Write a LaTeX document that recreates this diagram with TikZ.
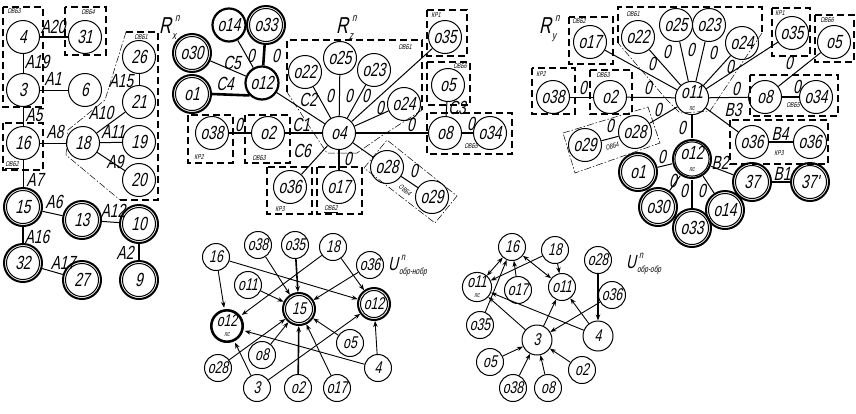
\documentclass[tikz,border=0pt]{standalone}
\usepackage{fontspec}
\newfontfamily\gost{Liberation Sans}[FakeStretch=0.72,FakeSlant=0.22]
\usetikzlibrary{arrows.meta}
\newcommand\ttlR[1]{{\fontsize{23}{23}\selectfont R}\hspace{1pt}\makebox[0pt][l]{\raisebox{-6pt}{\fontsize{11}{11}\selectfont #1}}\raisebox{12pt}{\fontsize{11}{11}\selectfont\hspace{3pt}n}}
\newcommand\ttlU[1]{{\fontsize{19}{19}\selectfont U}\hspace{1pt}\makebox[0pt][l]{\raisebox{-4pt}{\fontsize{9}{9}\selectfont #1}}\raisebox{10pt}{\fontsize{10}{10}\selectfont\hspace{2pt}n}}
\newcommand\lab[3]{\node[lbl] (#1) at (#2) {#3};}
\newcommand\tg[3]{\node[tag] (#1) at (#2) {#3};}
\newcommand\psn[1]{#1\\[-7pt]{\fontsize{7}{7}\selectfont пс}}
\tikzset{
  circ/.style={circle, draw, line width=1pt, minimum size=33pt, inner sep=0pt, align=center, font=\gost\fontsize{19}{19}\selectfont},
  ucirc/.style={circ, minimum size=27pt, font=\gost\fontsize{17}{17}\selectfont},
  dbl/.style={outer sep=3.5pt},
  thkring/.style={line width=2.2pt},
  ring/.style={line width=2pt},
  ln/.style={line width=1pt},
  thk/.style={line width=2.6pt},
  lbl/.style={font=\gost\fontsize{19}{19}\selectfont, inner sep=0pt},
  box/.style={line width=1.2pt, dash pattern=on 7pt off 4pt},
  tbox/.style={line width=0.5pt, dash pattern=on 7pt off 2pt on 1.5pt off 2pt},
  tag/.style={font=\gost\fontsize{7}{7}\selectfont, inner sep=0pt},
  arr/.style={line width=0.9pt, -{Stealth[length=6pt,width=4.5pt]}},
  darr/.style={line width=0.9pt, {Stealth[length=6pt,width=4.5pt]}-{Stealth[length=6pt,width=4.5pt]}},
}
\begin{document}
\begin{tikzpicture}[x=1pt,y=-1pt]
\useasboundingbox (0,0) rectangle (856,413);

% ================= R_x =================
\node[circ] (x4) at (23,37) {4};
\node[circ] (x31) at (85,37) {31};
\node[circ] (x3) at (23,90) {3};
\node[circ] (x6) at (85,90) {6};
\node[circ] (x26) at (139,57) {26};
\node[circ] (x21) at (139,102) {21};
\node[circ] (x16) at (23,143) {16};
\node[circ] (x18) at (83,143) {18};
\node[circ] (x19) at (139,142) {19};
\node[circ] (x20) at (139,180) {20};
\node[circ,dbl] (x15) at (23,207) {15};
\node[circ,dbl] (x13) at (82,220) {13};
\node[circ,dbl] (x10) at (139,224) {10};
\node[circ,dbl] (x32) at (23,263) {32};
\node[circ,dbl] (x27) at (82,280) {27};
\node[circ,dbl] (x9) at (139,280) {9};

\draw[thk] (x4) -- (x31);
\draw[ln] (x4) -- (x3);
\draw[ln] (x3) -- (x6);
\draw[ln] (x3) -- (x16);
\draw[ln] (x16) -- (x18);
\draw[ln] (x18) -- (x19);
\draw[ln] (x18) -- (x21);
\draw[ln] (x21) -- (x26);
\draw[ln] (x18) -- (x20);
\draw[ln] (x16) -- (x15);
\draw[ln] (x15) -- (x13);
\draw[ln] (x13) -- (x10);
\draw[thk] (x15) -- (x32);
\draw[ln] (x32) -- (x27);
\draw[line width=1.8pt] (x10) -- (x9);

\lab{lx1}{53,27}{A20}
\lab{lx2}{37,62}{A19}
\lab{lx3}{53,79}{A1}
\lab{lx4}{34,115}{A5}
\lab{lx5}{55,132}{A8}
\lab{lx6}{113,132}{A11}
\lab{lx7}{101,113}{A10}
\lab{lx8}{121,81}{A15}
\lab{lx9}{115,162}{A9}
\lab{lx10}{35,180}{A7}
\lab{lx11}{54,202}{A6}
\lab{lx12}{113,211}{A12}
\lab{lx13}{37,237}{A16}
\lab{lx14}{63,263}{A17}
\lab{lx15}{125,253}{A2}

\node[anchor=base west, inner sep=0pt, font=\gost] (tx) at (159,33) {\ttlR{x}};

\draw[box] (3,7) rectangle (43,107);
\tg{tx1}{14,11}{ОВБ3}
\draw[box] (65,7) rectangle (106,55);
\tg{tx2}{88,12}{ОВБ4}
\draw[box] (3,123) rectangle (43,170);
\tg{tx3}{12,165}{\underline{ОВБ2}}
\draw[box] (120,200) -- (158,200) -- (158,32) -- (126,32);
\draw[tbox] (126,32) -- (105,100) -- (68,130) -- (66,155) -- (120,200);
\tg{tx4}{141,37}{ОВБ1}

% ================= R_z =================
\node[circ,thkring] (z14) at (229,25) {o14};
\node[circ,dbl] (z33) at (266,25) {o33};
\node[circ,dbl] (z30) at (192,53) {o30};
\node[circ,dbl] (z1) at (192,94) {o1};
\node[circ,thkring] (z12) at (262,83) {o12};
\node[circ] (z22) at (305,72) {o22};
\node[circ] (z25) at (340,58) {o25};
\node[circ] (z23) at (374,70) {o23};
\node[circ] (z24) at (404,104) {o24};
\node[circ] (z35) at (445,37) {o35};
\node[circ] (z5) at (448,85) {o5};
\node[circ] (z8) at (445,133) {o8};
\node[circ] (z34) at (490,133) {o34};
\node[circ] (z4) at (339,133) {o4};
\node[circ] (z2) at (268,133) {o2};
\node[circ] (z38) at (212,133) {o38};
\node[circ] (z36) at (290,187) {o36};
\node[circ] (z17) at (339,187) {o17};
\node[circ] (z28) at (387,167) {o28};
\node[circ] (z29) at (432,197) {o29};

\draw[ln] (z12) -- (z14);
\draw[thk] (z12) -- (z33);
\draw[ln] (z12) -- (z30);
\draw[thk] (z1.east) -- (z12.south west);
\draw[ln] (z12) -- (z4);
\draw[ln] (z22) -- (z4);
\draw[ln] (z25) -- (z4);
\draw[ln] (z23) -- (z4);
\draw[ln] (z24) -- (z4);
\draw[ln] (z35) -- (z4);
\draw[thk] (z4) -- (z8);
\draw[thk] (z8) -- (z34);
\draw[ln] (z5) -- (z8);
\draw[thk] (z4) -- (z17);
\draw[ln] (z4) -- (z36);
\draw[ln] (z4) -- (z28);
\draw[ln] (z28) -- (z29);
\draw[line width=1.5pt] (z4) -- (z2);
\draw[line width=1.5pt] (z2) -- (z38);

\lab{lz1}{251,56}{0}
\lab{lz2}{276,56}{0}
\lab{lz3}{232,63}{C5}
\lab{lz4}{225,84}{C4}
\lab{lz5}{308,100}{C2}
\lab{lz6}{330,96}{0}
\lab{lz7}{349,96}{0}
\lab{lz8}{366,96}{0}
\lab{lz9}{380,108}{0}
\lab{lz10}{411,125}{0}
\lab{lz11}{471,124}{0}
\lab{lz12}{457,108}{C3}
\lab{lz13}{348,159}{0}
\lab{lz14}{302,151}{C6}
\lab{lz15}{301,125}{C1}
\lab{lz16}{239,125}{0}
\lab{lz17}{414,171}{0}

\node[anchor=base west, inner sep=0pt, font=\gost] (tz) at (336,33) {\ttlR{z}};

\draw[box] (188,115) rectangle (233,163); \tg{tz1}{199,157}{КР2}
\draw[box] (245,115) rectangle (290,163); \tg{tz2}{259,158}{ОВБ3}
\draw[box] (267,167) rectangle (312,214); \tg{tz3}{280,209}{КР3}
\draw[box] (317,167) rectangle (362,214); \tg{tz4}{331,209}{\underline{ОВБ2}}
\draw[box] (427,10) rectangle (467,56); \tg{tz5}{436,15}{КР1}
\draw[box] (427,62) rectangle (470,105); \tg{tz6}{460,66}{ОВБ6}
\draw[box] (427,113) rectangle (512,154); \tg{tz7}{471,146}{ОВБ5}
\draw[box] (287,92) -- (287,40) -- (422,40) -- (422,110);
\draw[tbox] (422,110) -- (380,137) -- (357,153) -- (327,153) -- (313,132) -- (287,92);
\tg{tz8}{405,47}{ОВБ1}
\draw[tbox] (364,168) -- (387,140) -- (457,196) -- (435,223) -- cycle;
\node[tag, rotate=-38] (tz9) at (405,190) {ОВБ4};

% ================= R_y =================
\node[circ] (y17) at (590,42) {o17};
\node[circ] (y22) at (638,37) {o22};
\node[circ] (y25) at (676,25) {o25};
\node[circ] (y23) at (709,25) {o23};
\node[circ] (y24) at (742,43) {o24};
\node[circ] (y35) at (792,33) {o35};
\node[circ] (y5) at (834,42) {o5};
\node[circ] (y38) at (553,97) {o38};
\node[circ] (y2) at (610,97) {o2};
\node[circ] (y11) at (692,98) {\psn{o11}};
\node[circ] (y8) at (765,97) {o8};
\node[circ] (y34) at (816,97) {o34};
\node[circ] (y29) at (585,145) {o29};
\node[circ] (y28) at (635,132) {o28};
\node[circ] (y36a) at (752,142) {o36};
\node[circ] (y36b) at (810,142) {o36};
\node[circ,dbl] (y12) at (692,159) {\psn{o12}};
\node[circ,dbl] (y1) at (638,172) {o1};
\node[circ,dbl] (y30) at (658,207) {o30};
\node[circ,dbl] (y33) at (692,228) {o33};
\node[circ,dbl] (y14) at (725,210) {o14};
\node[circ,dbl] (y37) at (752,182) {37};
\node[circ,dbl] (y37b) at (810,182) {37'};

\draw[ln] (y11) -- (y17);
\draw[ln] (y11) -- (y22);
\draw[ln] (y11) -- (y25);
\draw[ln] (y11) -- (y23);
\draw[ln] (y11) -- (y24);
\draw[ln] (y11) -- (y35);
\draw[ln] (y11) -- (y8);
\draw[thk] (y8) -- (y34);
\draw[ln] (y5) -- (y8);
\draw[ln] (y11) -- (y2);
\draw[ln] (y2) -- (y38);
\draw[ln] (y11) -- (y28);
\draw[ln] (y28) -- (y29);
\draw[ln] (y11) -- (y36a);
\draw[thk] (y36a) -- (y36b);
\draw[thk] (y11) -- (y12);
\draw[ln] (y12) -- (y1);
\draw[ln] (y12) -- (y30);
\draw[thk] (y12) -- (y33);
\draw[ln] (y12) -- (y14);
\draw[ln] (y12) -- (y37);
\draw[thk] (y37) -- (y37b);

\lab{ly1}{652,64}{0}
\lab{ly2}{667,52}{0}
\lab{ly3}{691,50}{0}
\lab{ly4}{713,53}{0}
\lab{ly5}{730,67}{0}
\lab{ly6}{736,89}{0}
\lab{ly7}{797,87}{0}
\lab{ly8}{789,63}{0}
\lab{ly9}{648,88}{0}
\lab{ly10}{583,88}{0}
\lab{ly11}{658,110}{0}
\lab{ly12}{610,126}{0}
\lab{ly13}{733,110}{B3}
\lab{ly14}{780,134}{B4}
\lab{ly15}{682,128}{0}
\lab{ly16}{662,157}{0}
\lab{ly17}{673,181}{0}
\lab{ly18}{684,191}{0}
\lab{ly19}{702,191}{0}
\lab{ly20}{720,163}{B2}
\lab{ly21}{782,174}{B1}

\node[anchor=base west, inner sep=0pt, font=\gost] (ty) at (539,33) {\ttlR{y}};

\draw[box] (569,17) rectangle (613,64); \tg{ty1}{579,21}{ОВБ2}
\draw[box] (532,68) rectangle (575,114); \tg{ty2}{541,74}{КР2}
\draw[box] (590,70) rectangle (632,114); \tg{ty3}{603,75}{ОВБ3}
\draw[box] (772,8) rectangle (810,56); \tg{ty4}{780,13}{КР1}
\draw[box] (815,15) rectangle (854,62); \tg{ty5}{827,20}{ОВБ6}
\draw[box] (750,75) rectangle (838,116); \tg{ty6}{793,105}{ОВБ5}
\draw[box] (730,120) rectangle (828,164); \tg{ty7}{779,153}{КР3}
\draw[box] (618,43) -- (618,7) -- (762,7) -- (762,33);
\draw[tbox] (762,33) -- (710,111) -- (680,113) -- (667,100) -- (618,43);
\tg{ty8}{633,14}{ОВБ1}
\draw[tbox] (563,133) -- (648,107) -- (660,143) -- (575,173) -- cycle;
\node[tag, rotate=17] (ty9) at (612,146) {ОВБ4};

% ================= U obr-nobr =================
\node[ucirc] (u16) at (216,257) {16};
\node[ucirc] (u38) at (258,245) {o38};
\node[ucirc] (u35) at (295,245) {o35};
\node[ucirc] (u18) at (333,247) {18};
\node[ucirc] (u36) at (370,265) {o36};
\node[ucirc] (u11) at (248,285) {o11};
\node[ucirc,dbl] (u15) at (299,309) {15};
\node[ucirc,dbl] (u12) at (374,304) {o12};
\node[ucirc,dbl] (u12p) at (227,326) {\psn{o12}};
\node[ucirc] (u8) at (262,355) {o8};
\node[ucirc] (u5) at (350,343) {o5};
\node[ucirc] (u28) at (218,368) {o28};
\node[ucirc] (u3) at (257,388) {3};
\node[ucirc] (u2) at (298,388) {o2};
\node[ucirc] (u17) at (337,388) {o17};
\node[ucirc] (u4) at (378,368) {4};

\draw[arr] (u16) -- (u12p);
\draw[arr] (u16) -- (u12);
\draw[arr] (u38) -- (u15);
\draw[arr, line width=1.6pt] (u35) -- (u15);
\draw[arr] (u18) -- (u12p);
\draw[arr] (u18) -- (u12);
\draw[arr] (u36) -- (u15);
\draw[arr] (u11) -- (u15);
\draw[arr] (u8) -- (u15);
\draw[arr] (u28) -- (u15);
\draw[arr] (u5) -- (u15);
\draw[arr, line width=1.6pt] (u2) -- (u15);
\draw[arr] (u17) -- (u15);
\draw[arr] (u3) -- (u12p);
\draw[arr] (u3) -- (u12);
\draw[arr] (u4) -- (u12p);
\draw[arr] (u4) -- (u12);

\node[anchor=base west, inner sep=0pt, font=\gost] (tu1) at (388,270) {\ttlU{обр-нобр}};

% ================= U obr-obr =================
\node[ucirc] (v16) at (512,247) {16};
\node[ucirc] (v18) at (555,250) {18};
\node[ucirc] (v28) at (598,260) {o28};
\node[ucirc] (v11p) at (477,287) {\psn{o11}};
\node[ucirc] (v17) at (518,290) {o17};
\node[ucirc] (v11) at (562,287) {o11};
\node[ucirc] (v36) at (612,295) {o36};
\node[ucirc] (v35) at (480,325) {o35};
\node[ucirc, minimum size=30pt] (v3) at (537,340) {3};
\node[ucirc, minimum size=30pt] (v4) at (598,336) {4};
\node[ucirc] (v5) at (490,362) {o5};
\node[ucirc] (v2) at (582,370) {o2};
\node[ucirc] (v38) at (513,388) {o38};
\node[ucirc] (v8) at (548,388) {o8};

\draw[darr] (v16) -- (v11p);
\draw[arr] (v35) -- (v16);
\draw[arr] (v17) -- (v16);
\draw[darr] (v16) -- (v11);
\draw[arr] (v18) -- (v11p);
\draw[arr] (v18) -- (v11);
\draw[arr, line width=1.4pt] (v28) -- (v4);
\draw[arr] (v36) -- (v3);
\draw[arr] (v4) -- (v11);
\draw[arr] (v4) -- (v11p);
\draw[arr] (v3) -- (v11p);
\draw[arr] (v3) -- (v11);
\draw[arr] (v5) -- (v3);
\draw[arr] (v38) -- (v3);
\draw[arr] (v8) -- (v3);
\draw[arr] (v2) -- (v3);

\node[anchor=base west, inner sep=0pt, font=\gost] (tu2) at (626,268) {\ttlU{обр-обр}};

% ================= rings of the double circles =================
\foreach \n in {x15,x13,x10,x32,x27,x9,z33,z30,z1,y12,y1,y30,y33,y14,y37,y37b}
  \draw[ring] (\n.center) circle (19pt);
\foreach \n in {u15,u12,u12p}
  \draw[ring] (\n.center) circle (16pt);
\end{tikzpicture}
\end{document}
